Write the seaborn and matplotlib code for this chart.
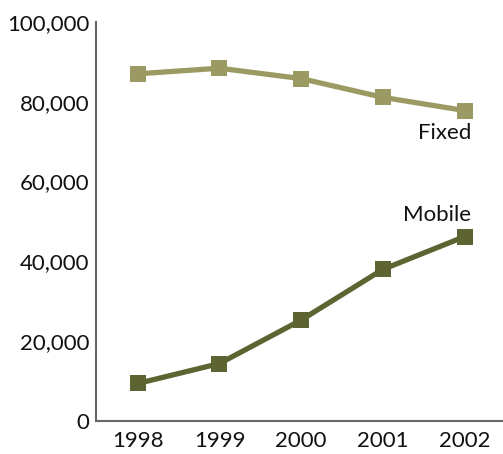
import matplotlib
matplotlib.use("Agg")
import matplotlib.pyplot as plt
import seaborn as sns
import pandas as pd
from matplotlib.ticker import FuncFormatter

years = [1998, 1999, 2000, 2001, 2002]
fixed = [87000, 88400, 85800, 81100, 77800]
mobile = [9400, 14400, 25300, 38000, 46200]
series_names = ["Fixed", "Mobile"]
colors = {"Fixed": "#9c9a63", "Mobile": "#5e6431"}

df = pd.DataFrame({
    "year": years * 2,
    "value": fixed + mobile,
    "series": ["Fixed"] * len(years) + ["Mobile"] * len(years),
})

sns.set_theme(style="white")
plt.rcParams["font.family"] = ["Lato", "DejaVu Sans"]

fig = plt.figure(figsize=(5.03, 4.54), dpi=100)
ax = fig.add_axes([0.191, 0.0727, 0.809, 0.879])

sns.lineplot(data=df, x="year", y="value", hue="series", palette=colors,
             marker="s", markersize=11, linewidth=3.8, markeredgewidth=0,
             legend=False, ax=ax)

ax.set_xlim(1997.49, 2002.47)
ax.set_ylim(0, 100000)
ax.set_xticks(years)
ax.set_xticklabels([str(y) for y in years])
ax.set_yticks([0, 20000, 40000, 60000, 80000, 100000])
ax.yaxis.set_major_formatter(FuncFormatter(lambda v, p: f"{int(v):,}"))
ax.set_xlabel("")
ax.set_ylabel("")
ax.tick_params(axis="both", length=0, labelsize=16, colors="#111111", pad=7)
ax.tick_params(axis="y", pad=5)
for s in ["top", "right"]:
    ax.spines[s].set_visible(False)
for s in ["left", "bottom"]:
    ax.spines[s].set_color("#666666")
    ax.spines[s].set_linewidth(1.5)

ax.text(years[-1] + 0.08, fixed[-1] - 5600, "Fixed", ha="right", va="center",
        fontsize=16, color="#111111")
ax.text(years[-1] + 0.08, mobile[-1] + 5400, "Mobile", ha="right", va="center",
        fontsize=16, color="#111111")

fig.savefig("out.png", dpi=100)
